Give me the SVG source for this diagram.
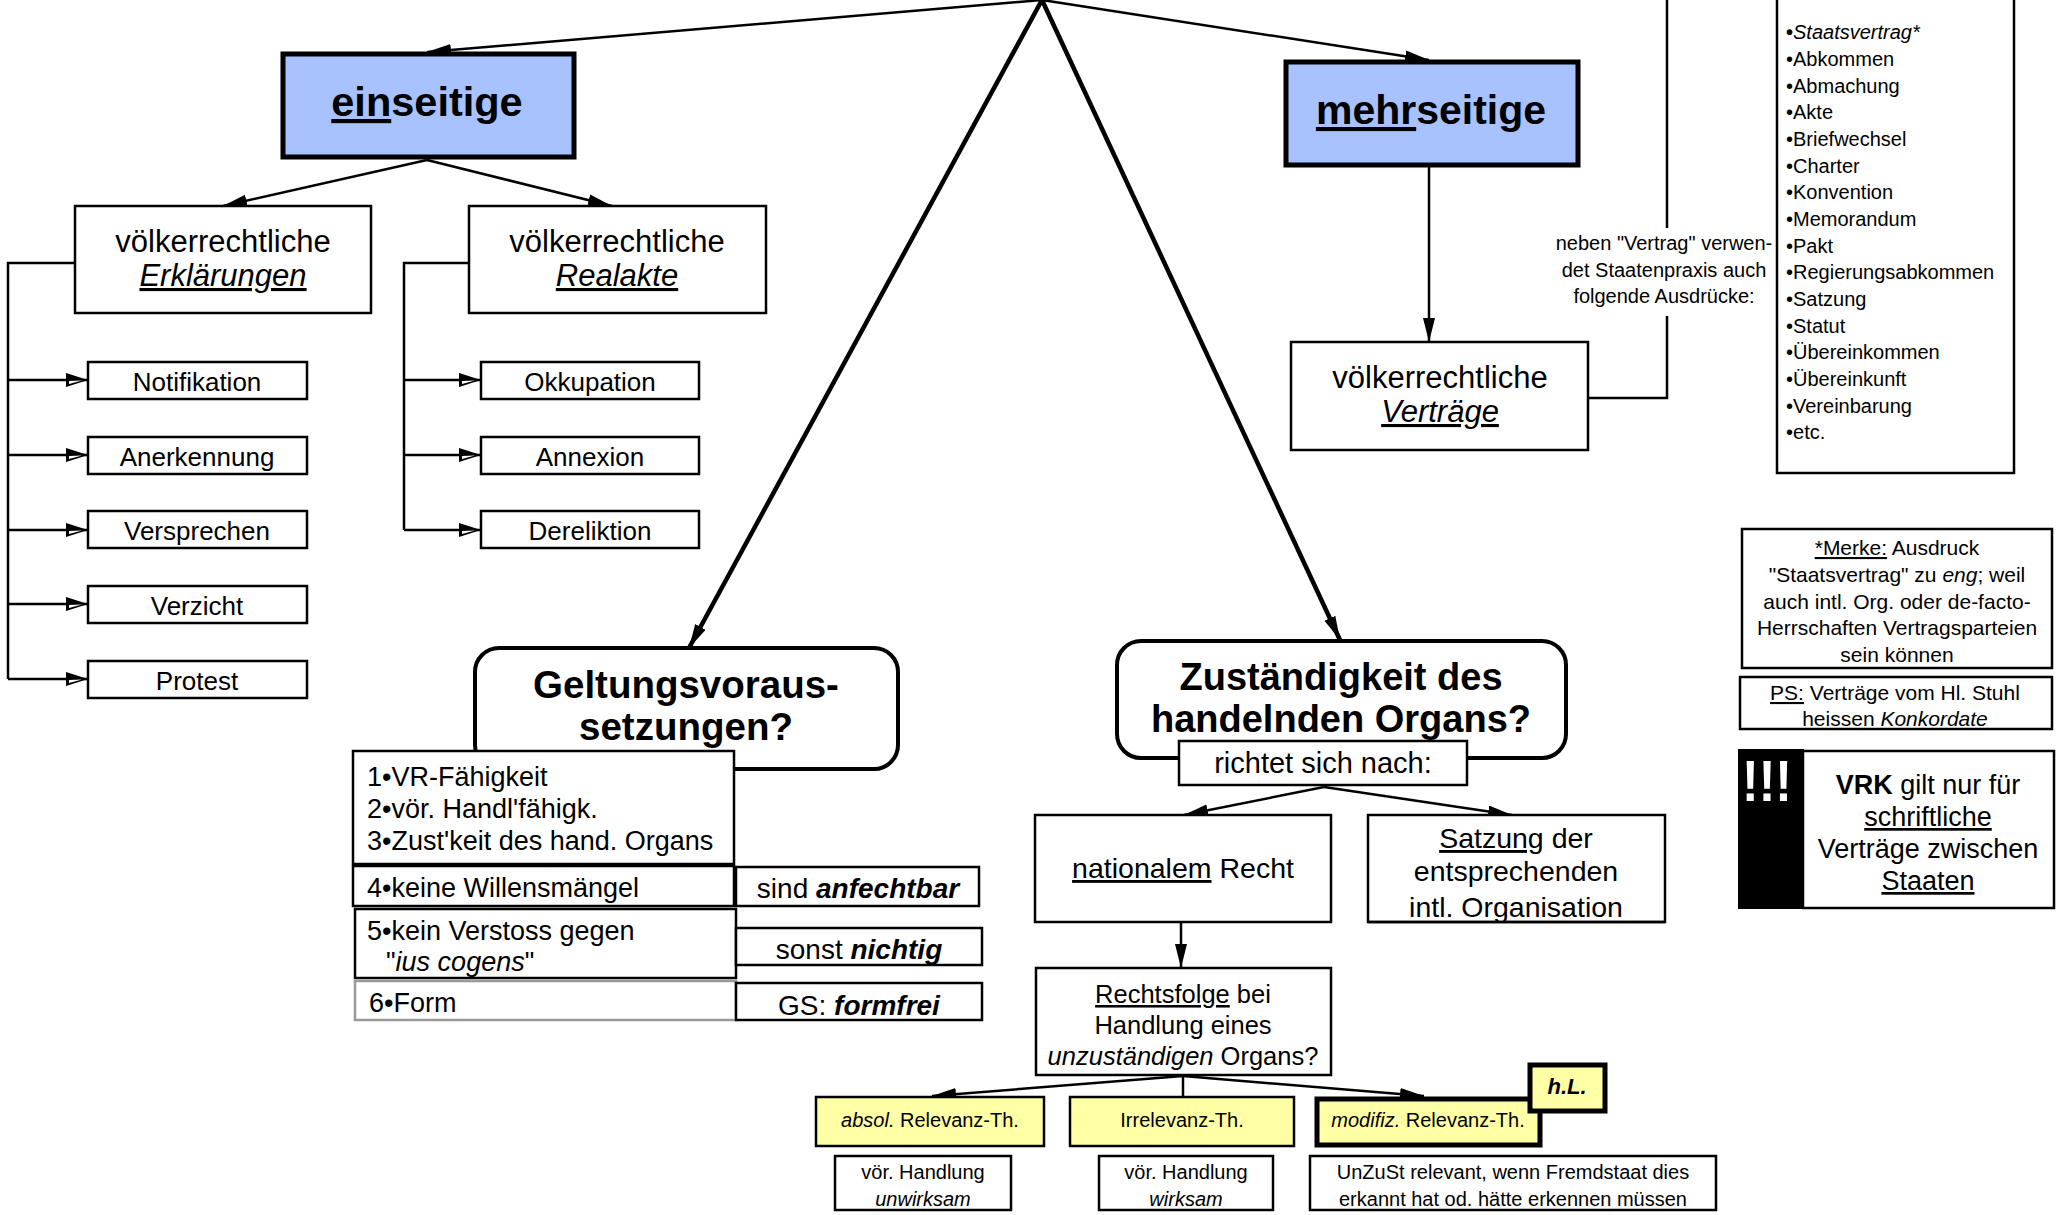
<svg xmlns="http://www.w3.org/2000/svg" width="2056" height="1215" viewBox="0 0 2056 1215">
<style>
text{font-family:"Liberation Sans",Arial,sans-serif;fill:#000}
.box{fill:#fff;stroke:#000;stroke-width:2.5}
.blue{fill:#a8c2ff;stroke:#000;stroke-width:5}
.yel{fill:#ffffa6;stroke:#000;stroke-width:2.5}
.yelb{fill:#ffffa6;stroke:#000;stroke-width:5}
.rnd{fill:#fff;stroke:#000;stroke-width:4}
.ln{fill:none;stroke:#000;stroke-width:2.5}
.thk{fill:none;stroke:#000;stroke-width:4.5}
.c{text-anchor:middle}
.u{text-decoration:underline}
.i{font-style:italic}
.b{font-weight:bold}
</style>
<defs>
<marker id="af" markerUnits="userSpaceOnUse" markerWidth="26" markerHeight="14" refX="24" refY="6" orient="auto">
<path d="M0,0 L24,6 L0,12 z" fill="#000"/>
</marker>
<marker id="ao" markerUnits="userSpaceOnUse" markerWidth="26" markerHeight="16" refX="22" refY="7" orient="auto">
<path d="M0,0 L22,7 L0,14 z" fill="#000"/>
<path d="M3,8 L16,7.5 L3,11 z" fill="#fff"/>
</marker>
<clipPath id="clipSatz"><rect x="1368" y="816" width="297" height="106"/></clipPath>
</defs>

<g id="connectors">
<line class="ln" x1="1042" y1="0" x2="427" y2="52" marker-end="url(#af)"/>
<line class="ln" x1="1042" y1="0" x2="1429" y2="60" marker-end="url(#af)"/>
<line class="thk" x1="1042" y1="0" x2="689" y2="648" marker-end="url(#af)"/>
<line class="thk" x1="1042" y1="0" x2="1340" y2="640" marker-end="url(#af)"/>
<line class="ln" x1="427" y1="160" x2="223" y2="206" marker-end="url(#af)"/>
<line class="ln" x1="427" y1="160" x2="612" y2="206" marker-end="url(#af)"/>
<path class="ln" d="M75,263 H8 V679"/>
<line class="ln" x1="8" y1="380" x2="88" y2="380" marker-end="url(#ao)"/>
<line class="ln" x1="8" y1="455" x2="88" y2="455" marker-end="url(#ao)"/>
<line class="ln" x1="8" y1="530" x2="88" y2="530" marker-end="url(#ao)"/>
<line class="ln" x1="8" y1="604" x2="88" y2="604" marker-end="url(#ao)"/>
<line class="ln" x1="8" y1="679" x2="88" y2="679" marker-end="url(#ao)"/>
<path class="ln" d="M469,263 H404 V530"/>
<line class="ln" x1="404" y1="380" x2="481" y2="380" marker-end="url(#ao)"/>
<line class="ln" x1="404" y1="455" x2="481" y2="455" marker-end="url(#ao)"/>
<line class="ln" x1="404" y1="530" x2="481" y2="530" marker-end="url(#ao)"/>
<line class="ln" x1="1429" y1="167" x2="1429" y2="342" marker-end="url(#af)"/>
<path class="ln" d="M1588,398 H1667 V316"/>
<line class="ln" x1="1667" y1="0" x2="1667" y2="228"/>
<line class="ln" x1="1324" y1="787" x2="1184" y2="815" marker-end="url(#af)"/>
<line class="ln" x1="1324" y1="787" x2="1512" y2="815" marker-end="url(#af)"/>
<line class="ln" x1="1181" y1="922" x2="1181" y2="968" marker-end="url(#af)"/>
<line class="ln" x1="1183" y1="1076" x2="932" y2="1096" marker-end="url(#af)"/>
<line class="ln" x1="1183" y1="1076" x2="1183" y2="1096"/>
<line class="ln" x1="1183" y1="1076" x2="1424" y2="1096" marker-end="url(#af)"/>
</g>

<g id="einseitige">
<rect class="blue" x="283" y="54" width="291" height="103"/>
<text class="c b" x="427" y="116" font-size="41.5"><tspan class="u">ein</tspan>seitige</text>
</g>
<g id="mehrseitige">
<rect class="blue" x="1286" y="62" width="292" height="103"/>
<text class="c b" x="1431" y="124" font-size="41"><tspan class="u">mehr</tspan>seitige</text>
</g>

<g id="erklaerungen">
<rect class="box" x="75" y="206" width="296" height="107"/>
<text class="c" x="223" y="252" font-size="31">völkerrechtliche</text>
<text class="c i u" x="223" y="286" font-size="31">Erklärungen</text>
</g>
<g id="realakte">
<rect class="box" x="469" y="206" width="297" height="107"/>
<text class="c" x="617" y="252" font-size="31">völkerrechtliche</text>
<text class="c i u" x="617" y="286" font-size="31">Realakte</text>
</g>

<g id="notifikation"><rect class="box" x="88" y="362" width="219" height="37"/><text class="c" x="197" y="391" font-size="26">Notifikation</text></g>
<g id="anerkennung"><rect class="box" x="88" y="437" width="219" height="37"/><text class="c" x="197" y="466" font-size="26">Anerkennung</text></g>
<g id="versprechen"><rect class="box" x="88" y="511" width="219" height="37"/><text class="c" x="197" y="540" font-size="26">Versprechen</text></g>
<g id="verzicht"><rect class="box" x="88" y="586" width="219" height="37"/><text class="c" x="197" y="615" font-size="26">Verzicht</text></g>
<g id="protest"><rect class="box" x="88" y="661" width="219" height="37"/><text class="c" x="197" y="690" font-size="26">Protest</text></g>

<g id="okkupation"><rect class="box" x="481" y="362" width="218" height="37"/><text class="c" x="590" y="391" font-size="26">Okkupation</text></g>
<g id="annexion"><rect class="box" x="481" y="437" width="218" height="37"/><text class="c" x="590" y="466" font-size="26">Annexion</text></g>
<g id="dereliktion"><rect class="box" x="481" y="511" width="218" height="37"/><text class="c" x="590" y="540" font-size="26">Dereliktion</text></g>

<g id="vertraege">
<rect class="box" x="1291" y="342" width="297" height="108"/>
<text class="c" x="1440" y="388" font-size="31">völkerrechtliche</text>
<text class="c i u" x="1440" y="422" font-size="31">Verträge</text>
</g>

<g id="label-neben">
<text class="c" x="1664" y="250" font-size="20">neben "Vertrag" verwen-</text>
<text class="c" x="1664" y="277" font-size="20">det Staatenpraxis auch</text>
<text class="c" x="1664" y="303" font-size="20">folgende Ausdrücke:</text>
</g>

<g id="ausdruecke">
<rect class="box" x="1777" y="-3" width="237" height="476"/>
<text x="1786" y="39" font-size="20"><tspan font-weight="bold">•</tspan><tspan class="i">Staatsvertrag*</tspan></text>
<text x="1786" y="66" font-size="20">•Abkommen</text>
<text x="1786" y="93" font-size="20">•Abmachung</text>
<text x="1786" y="119" font-size="20">•Akte</text>
<text x="1786" y="146" font-size="20">•Briefwechsel</text>
<text x="1786" y="173" font-size="20">•Charter</text>
<text x="1786" y="199" font-size="20">•Konvention</text>
<text x="1786" y="226" font-size="20">•Memorandum</text>
<text x="1786" y="253" font-size="20">•Pakt</text>
<text x="1786" y="279" font-size="20">•Regierungsabkommen</text>
<text x="1786" y="306" font-size="20">•Satzung</text>
<text x="1786" y="333" font-size="20">•Statut</text>
<text x="1786" y="359" font-size="20">•Übereinkommen</text>
<text x="1786" y="386" font-size="20">•Übereinkunft</text>
<text x="1786" y="413" font-size="20">•Vereinbarung</text>
<text x="1786" y="439" font-size="20">•etc.</text>
</g>

<g id="merke">
<rect class="box" x="1742" y="529" width="310" height="139"/>
<text class="c" x="1897" y="555" font-size="21"><tspan class="u">*Merke:</tspan> Ausdruck</text>
<text class="c" x="1897" y="582" font-size="21">"Staatsvertrag" zu <tspan class="i">eng</tspan>; weil</text>
<text class="c" x="1897" y="609" font-size="21">auch intl. Org. oder de-facto-</text>
<text class="c" x="1897" y="635" font-size="21">Herrschaften Vertragsparteien</text>
<text class="c" x="1897" y="662" font-size="21">sein können</text>
</g>

<g id="ps">
<rect class="box" x="1740" y="677" width="312" height="52"/>
<text class="c" x="1895" y="700" font-size="21"><tspan class="u">PS:</tspan> Verträge vom Hl. Stuhl</text>
<text class="c" x="1895" y="726" font-size="21">heissen <tspan class="i">Konkordate</tspan></text>
</g>

<g id="vrk">
<rect x="1738" y="749" width="66" height="160" fill="#000"/>
<rect class="box" x="1803" y="751" width="251" height="157"/>
<text x="1742" y="801" font-size="50" font-weight="bold" style="fill:#fff" transform="translate(1742 801) scale(1 1.15) translate(-1742 -801)">!!!</text>
<text class="c" x="1928" y="794" font-size="27"><tspan class="b">VRK</tspan> gilt nur für</text>
<text class="c u" x="1928" y="826" font-size="27">schriftliche</text>
<text class="c" x="1928" y="858" font-size="27">Verträge zwischen</text>
<text class="c u" x="1928" y="890" font-size="27">Staaten</text>
</g>

<g id="geltungsvoraussetzungen">
<rect class="rnd" x="475" y="648" width="423" height="121" rx="24" ry="24"/>
<text class="c b" x="686" y="698" font-size="38.5">Geltungsvoraus-</text>
<text class="c b" x="686" y="740" font-size="38.5">setzungen?</text>
</g>
<g id="voraussetzungen-1-3">
<rect class="box" x="353" y="751" width="381" height="113"/>
<text x="367" y="786" font-size="27">1•VR-Fähigkeit</text>
<text x="367" y="818" font-size="27">2•vör. Handl'fähigk.</text>
<text x="367" y="850" font-size="27">3•Zust'keit des hand. Organs</text>
</g>
<g id="voraussetzung-4">
<rect class="box" x="353" y="866" width="381" height="40"/>
<text x="367" y="897" font-size="27">4•keine Willensmängel</text>
</g>
<g id="anfechtbar">
<rect class="box" x="736" y="867" width="243" height="39"/>
<text class="c" x="858" y="898" font-size="28">sind <tspan class="b i">anfechtbar</tspan></text>
</g>
<g id="voraussetzung-5">
<rect class="box" x="355" y="909" width="381" height="69"/>
<text x="367" y="940" font-size="27">5•kein Verstoss gegen</text>
<text x="386" y="971" font-size="27">"<tspan class="i">ius cogens</tspan>"</text>
</g>
<g id="nichtig">
<rect class="box" x="736" y="928" width="246" height="37"/>
<text class="c" x="859" y="959" font-size="28">sonst <tspan class="b i">nichtig</tspan></text>
</g>
<g id="voraussetzung-6">
<rect x="355" y="981" width="381" height="39" fill="#fff" stroke="#999" stroke-width="2.5"/>
<text x="369" y="1012" font-size="27">6•Form</text>
</g>
<g id="formfrei">
<rect class="box" x="736" y="983" width="246" height="37"/>
<text class="c" x="859" y="1015" font-size="28">GS: <tspan class="b i">formfrei</tspan></text>
</g>

<g id="zustaendigkeit">
<rect class="rnd" x="1117" y="641" width="449" height="117" rx="24" ry="24"/>
<text class="c b" x="1341" y="690" font-size="38">Zuständigkeit des</text>
<text class="c b" x="1341" y="732" font-size="38">handelnden Organs?</text>
</g>
<g id="richtet">
<rect class="box" x="1179" y="741" width="288" height="44"/>
<text class="c" x="1323" y="773" font-size="29">richtet sich nach:</text>
</g>
<g id="nationalem-recht">
<rect class="box" x="1035" y="815" width="296" height="107"/>
<text class="c" x="1183" y="878" font-size="28.5"><tspan class="u">nationalem</tspan> Recht</text>
</g>
<g id="satzung">
<rect class="box" x="1368" y="815" width="297" height="107"/>
<g clip-path="url(#clipSatz)">
<text class="c" x="1516" y="848" font-size="28.5"><tspan class="u">Satzung</tspan> der</text>
<text class="c" x="1516" y="881" font-size="28.5">entsprechenden</text>
<text class="c" x="1516" y="917" font-size="28.5">intl. Organisation</text>
</g>
<line x1="1368" y1="922" x2="1665" y2="922" stroke="#000" stroke-width="2.5"/>
</g>
<g id="rechtsfolge">
<rect class="box" x="1036" y="968" width="295" height="107"/>
<text class="c" x="1183" y="1003" font-size="25.5"><tspan class="u">Rechtsfolge</tspan> bei</text>
<text class="c" x="1183" y="1034" font-size="25.5">Handlung eines</text>
<text class="c" x="1183" y="1065" font-size="25.5"><tspan class="i">unzuständigen</tspan> Organs?</text>
</g>

<g id="absol"><rect class="yel" x="816" y="1097" width="228" height="49"/><text class="c" x="930" y="1127" font-size="20"><tspan class="i">absol.</tspan> Relevanz-Th.</text></g>
<g id="irrelevanz"><rect class="yel" x="1070" y="1097" width="224" height="49"/><text class="c" x="1182" y="1127" font-size="20">Irrelevanz-Th.</text></g>
<g id="modifiz"><rect class="yelb" x="1317" y="1099" width="223" height="46"/><text class="c" x="1428" y="1127" font-size="20"><tspan class="i">modifiz.</tspan> Relevanz-Th.</text></g>
<g id="hl"><rect class="yelb" x="1530" y="1065" width="75" height="46"/><text class="c b i" x="1567" y="1094" font-size="22">h.L.</text></g>

<g id="unwirksam"><rect class="box" x="835" y="1156" width="176" height="54"/><text class="c" x="923" y="1179" font-size="20">vör. Handlung</text><text class="c i" x="923" y="1206" font-size="20">unwirksam</text></g>
<g id="wirksam"><rect class="box" x="1099" y="1156" width="174" height="54"/><text class="c" x="1186" y="1179" font-size="20">vör. Handlung</text><text class="c i" x="1186" y="1206" font-size="20">wirksam</text></g>
<g id="unzust"><rect class="box" x="1310" y="1156" width="406" height="54"/><text class="c" x="1513" y="1179" font-size="20">UnZuSt relevant, wenn Fremdstaat dies</text><text class="c" x="1513" y="1206" font-size="20">erkannt hat od. hätte erkennen müssen</text></g>
</svg>
